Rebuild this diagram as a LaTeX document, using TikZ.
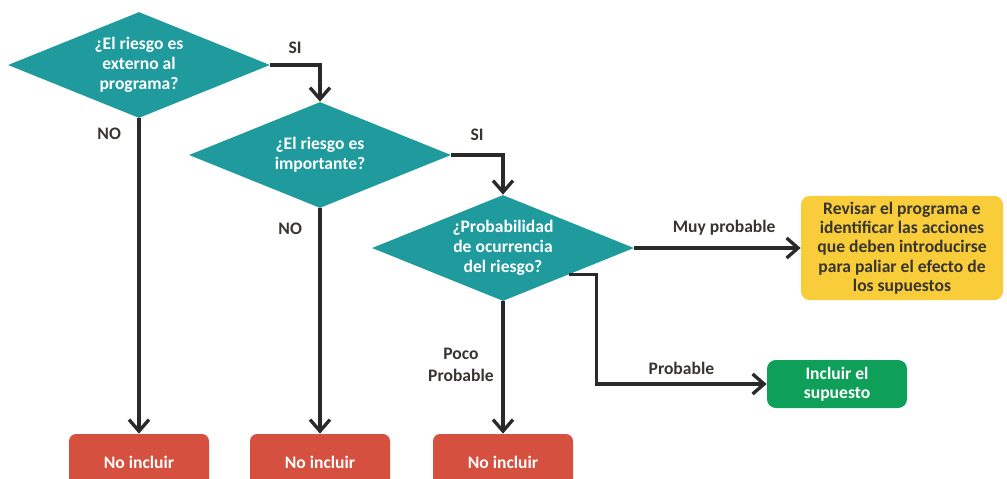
\documentclass[tikz,border=0pt]{standalone}
\usepackage{fontspec}
\setmainfont{Carlito}
\usetikzlibrary{shapes.geometric,arrows.meta}

\definecolor{qteal}{HTML}{1F9A9D}
\definecolor{nored}{HTML}{D6503F}
\definecolor{yesgreen}{HTML}{0E9F58}
\definecolor{revyellow}{HTML}{F9CD3A}
\definecolor{flowgray}{HTML}{2A2A2A}
\definecolor{lblgray}{HTML}{383530}

\begin{document}
\begin{tikzpicture}[
    question/.style={diamond, fill=qteal, text=white, minimum width=5.24cm, minimum height=2.12cm, inner sep=0pt, aspect=2.5, align=center, font=\bfseries\fontsize{10}{11.5}\selectfont},
    noinc/.style={rectangle, rounded corners=4pt, fill=nored, text=white, minimum width=2.8cm, minimum height=1.12cm, font=\bfseries\fontsize{10}{12}\selectfont},
    result/.style={rectangle, rounded corners=5pt, align=center, font=\bfseries\fontsize{10}{11}\selectfont},
    flow/.style={draw=flowgray, line width=1.9pt, -{Straight Barb[length=2.3mm,width=4mm]}},
    lbl/.style={text=lblgray, align=center, font=\bfseries\fontsize{10}{13}\selectfont}
]
    \useasboundingbox (0,0) rectangle (20.14,-9.58);

    % Questions
    \node[question] (external) at (2.78,-1.30) {¿El riesgo es\\externo al\\programa?};
    \node[question] (important) at (6.40,-3.10) {¿El riesgo es\\importante?};
    \node[question] (probability) at (10.06,-4.96) {¿Probabilidad\\de ocurrencia\\del riesgo?};

    % Outcomes
    \node[noinc] (noA) at (2.78,-9.24) {No incluir};
    \node[noinc] (noB) at (6.40,-9.24) {No incluir};
    \node[noinc] (noC) at (10.06,-9.24) {No incluir};

    \node[result, fill=revyellow, text=lblgray, minimum width=4.04cm, minimum height=1.98cm] (review) at (18.04,-4.96) {
        Revisar el programa e\\
        identificar las acciones\\
        que deben introducirse\\
        para paliar el efecto de\\
        los supuestos
    };
    \node[result, fill=yesgreen, text=white, minimum width=2.8cm, minimum height=0.96cm] (include) at (16.74,-7.68) {Incluir el\\supuesto};

    % Connections
    \draw[flow] (external.east) -| node[lbl, pos=0.25, above=2pt] {SI} (important.north);
    \draw[flow] (important.east) -| node[lbl, pos=0.25, above=4pt] {SI} (probability.north);
    \draw[flow] (external.south) -- node[lbl, pos=0.05, left=6pt] {NO} (noA.north);
    \draw[flow] (important.south) -- node[lbl, pos=0.09, left=6pt] {NO} (noB.north);
    \draw[flow] (probability.south) -- node[lbl, pos=0.48, left=1pt] {Poco\\Probable} (noC.north);
    \draw[flow] (probability.east) -- node[lbl, pos=0.54, above=3pt] {Muy probable} (review.west);
    \draw[flow] (probability.south east) -- ++(0.55,0) |- node[lbl, pos=0.75, above=1pt] {Probable} (include.west);

\end{tikzpicture}
\end{document}
